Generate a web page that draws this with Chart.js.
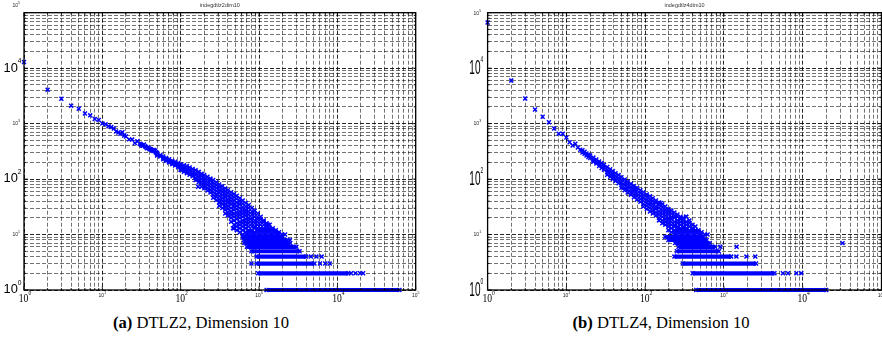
<!DOCTYPE html>
<html>
<head>
<meta charset="utf-8">
<title>In-degree distributions, dimension 10</title>
<script src="https://cdn.jsdelivr.net/npm/chart.js@4.4.1/dist/chart.umd.min.js"></script>
<style>
  html, body { margin: 0; padding: 0; background: #fff; }
  body { position: relative; width: 882px; height: 347px; overflow: hidden; }
  canvas { position: absolute; top: 0; }
  #c2 { left: 0; }
  #c4 { left: 441px; }
  .cap {
    position: absolute; top: 313px; line-height: 20px;
    font-family: "Liberation Serif", "DejaVu Serif", serif;
    font-size: 16.6px; color: #000; white-space: nowrap; transform: translateX(-50%);
  }
</style>
</head>
<body>
<canvas id="c2" width="441" height="312"></canvas>
<canvas id="c4" width="441" height="312"></canvas>
<div class="cap" style="left:201px"><b>(a)</b> DTLZ2, Dimension 10</div>
<div class="cap" style="left:661px"><b>(b)</b> DTLZ4, Dimension 10</div>
<script>
// ---------- DTLZ2, dimension 10: in-degree -> number of nodes ----------
const headDeg2 = [1,2,3,4,5,6,7,8,9,10,11,12,13,14,15,16,17,18,19,20,22,24,26,28,30,
                  31,32,33,34,35,36,37,38,39,40,41,42,43,44,45,46,47,48,49];
const headCnt2 = [12900,4100,2800,2100,1850,1520,1410,1210,1160,1005,970,900,865,815,720,690,655,700,610,585,
                  520,515,445,480,435,420,405,400,420,390,380,360,370,360,345,350,340,330,330,320,335,320,305,300];
// dense part: counts observed around each degree
const cloudDeg2 = [50,55,60,65,71,78,85,93,100,110,120,130,142,155,170,185,200,220,240,260,
                   285,310,340,370,400,440,480,520,570,620,680,740,810,880,960,1050,1150,1250,1370,1500,
                   1640,1800,1960,2150];
const cloudCnt2 = [
  [295,280,265],[272,255],[255,240,228],[240,225,215],[228,212,200],[215,198,186],[205,188,175],
  [195,178,164],[185,168,155,145],[178,160,146,135],[172,155,140,128],[162,146,132,120],[152,137,124,112],
  [145,130,117,105,96],[135,121,108,97,88],[125,112,100,90,81,73],[118,105,94,84,75,68],[110,98,87,78,70,62],
  [102,91,81,72,64,57],[96,85,75,67,59,52,46],[88,78,69,61,54,48,42],[80,71,63,56,49,43,38,33],
  [74,65,58,51,45,40,35,30],[68,60,53,47,41,36,32,28,24],[63,56,49,43,38,33,29,25,22],
  [58,51,45,40,35,30,26,23,20,17],[54,47,41,36,32,28,24,21,18,15,13],[50,44,38,33,29,25,22,19,16,14,12],
  [45,40,35,30,26,23,20,17,15,13,11],[41,36,31,27,24,21,18,16,14,12,10],[37,32,28,25,22,19,17,15,13,11,10],
  [34,30,26,23,20,18,16,14,12,11,10],[30,26,23,20,18,16,14,12,11,10],[27,24,21,18,16,14,13,11,10],
  [24,21,19,17,15,13,12,11,10],[21,19,17,15,13,12,11,10],[18,17,15,13,12,11,10],[16,15,13,12,11,10],
  [15,13,12,11,10],[13,12,11,10],[12,11,10],[11,10],[10],[10]
];
// low counts: runs of consecutive degrees sharing the same count
const rowCnt2  = [1,2,3,4,5,6,7,8,9];
const rowFrom2 = [1250,975,930,930,800,700,650,640,620];
const rowTo2   = [62000,13800,5100,4000,3300,3000,2500,2300,2000];
const oddDeg2 = [15000,17000,19500,21300,800,6000,7000,8000,4600,5400,6300,464,1300,167,2480];
const oddCnt2 = [2,2,2,2,3,3,3,3,4,4,4,13,15,73,8];

// ---------- DTLZ4, dimension 10 ----------
const headDeg4 = [1,2,3,4,5,6,7,8,9,10,11,12,13,14,15];
const headCnt4 = [66800,6000,2840,1800,1330,1060,817,655,655,562,463,403,432,371,337];
const cloudDeg4 = [16,17,18,19,20,22,24,26,28,30,33,36,39,42,46,50,55,60,66,72,
                   79,87,95,105,115,125,137,150,165,180,197,215,235,257,280,305,333,365,400,435,
                   475,520,570,620];
const cloudCnt4 = [
  [330,300],[310,285],[290,265],[275,250],[265,240],[245,222,205],[225,205,190],[208,190,172],
  [195,175,158],[182,163,148],[165,148,133,120],[150,135,121,110],[138,124,111,100],[128,114,102,92],
  [118,105,94,84],[108,96,86,77,70],[98,87,78,70,63],[90,80,71,64,57],[82,73,65,58,52],[75,67,60,53,47],
  [70,62,55,49,43],[63,56,50,44,39],[58,51,46,41,36,32],[53,47,42,37,33,29],[49,43,38,34,30,26],
  [45,40,35,31,27,24],[41,37,32,29,25,22],[38,34,30,26,23,20,18],[35,31,27,24,21,18,16],
  [32,28,25,22,19,17,15],[29,26,23,20,18,16,14,12],[27,24,21,19,17,15,13,11],[25,22,20,17,15,14,12,11,10],
  [23,21,18,16,14,13,12,11,10],[21,19,17,15,13,12,11,10],[20,18,16,14,13,12,11,10],[21,17,15,13,12,11,10],
  [18,16,14,12,11,10],[15,13,12,11,10],[14,12,11,10],[12,11,10],[11,10],[10],[10]
];
const rowCnt4  = [1,2,3,4,5,6,7,8,9];
const rowFrom4 = [445,400,300,235,252,265,240,197,180];
const rowTo4   = [19900,4380,2560,1235,860,770,660,605,550];
const oddDeg4 = [5600,6500,8300,9600,1440,1930,2500,900,1450,32000,330,158];
const oddCnt4 = [2,2,2,2,4,4,4,6,6,7,21,37];

// ---------- axes ----------
const decades = [1, 10, 100, 1000, 10000, 100000];
const minorSteps = [2, 3, 4, 5, 6, 7, 8, 9];
const tickExps = [0, 1, 2, 3, 4, 5];
const bigExps = [0, 2, 4];
const titles = ['indegdtlz2dim10', 'indegdtlz4dim10'];

const BLUE = '#0000ff';
const SANS = '"Liberation Sans", Arial, sans-serif';
const SERIF = '"Liberation Serif", "DejaVu Serif", serif';

const marker = {
  pointStyle: 'crossRot', pointRadius: 2.8, pointBorderWidth: 1.45,
  pointBorderColor: BLUE, pointBackgroundColor: BLUE,
  borderColor: BLUE, backgroundColor: BLUE, clip: false
};

function pairs(deg, cnt) { return deg.map((d, i) => ({ x: d, y: cnt[i] })); }
function columns(deg, cols) {
  const out = [];
  deg.forEach((d, i) => cols[i].forEach(c => out.push({ x: d, y: c })));
  return out;
}

function buildSets(hd, hc, cd, cc, rc, rf, rt, od, oc) {
  const sets = [
    Object.assign({ data: pairs(hd, hc), showLine: false }, marker),
    Object.assign({ data: columns(cd, cc), showLine: false }, marker),
    Object.assign({ data: pairs(od, oc), showLine: false }, marker)
  ];
  rc.forEach((c, i) => {
    sets.push(Object.assign({
      data: [{ x: rf[i], y: c }, { x: rt[i], y: c }],
      showLine: true, borderWidth: 4.2, fill: false
    }, marker));
  });
  return sets;
}

function gridTicks(scale) {
  const t = [];
  decades.forEach((d, i) => {
    t.push({ value: d, major: true });
    if (i < decades.length - 1) minorSteps.forEach(m => t.push({ value: d * m, major: false }));
  });
  scale.ticks = t;
}

function axis() {
  return {
    type: 'logarithmic', min: 1, max: 100000,
    afterBuildTicks: gridTicks,
    afterFit: s => { if (s.isHorizontal()) s.height = 0; else s.width = 0; },
    ticks: { display: false },
    grid: {
      drawTicks: false, lineWidth: 1,
      color: c => (c.tick && c.tick.major) ? 'rgba(0,0,0,0.85)' : 'rgba(0,0,0,0.55)'
    },
    border: { display: false, dash: [4, 2] }
  };
}

// "10" with a raised exponent
function powLabel(ctx, exp, cx, cy, st, align) {
  ctx.save();
  ctx.fillStyle = st.color;
  ctx.textAlign = 'left';
  ctx.textBaseline = 'alphabetic';
  ctx.font = st.size + 'px ' + st.fam;
  const w10 = ctx.measureText('10').width * st.xs;
  ctx.font = st.sup + 'px ' + st.fam;
  const wS = ctx.measureText(String(exp)).width * st.xs;
  const total = w10 + wS;
  const x0 = align === 'right' ? cx - total : cx - total / 2;
  const base = cy + st.size * 0.36;
  ctx.translate(x0, base);
  ctx.scale(st.xs, 1);
  ctx.font = st.size + 'px ' + st.fam;
  ctx.fillText('10', 0, 0);
  ctx.font = st.sup + 'px ' + st.fam;
  ctx.fillText(String(exp), w10 / st.xs, -st.size * 0.6);
  ctx.restore();
}

const deco = {
  id: 'deco',
  afterDatasetsDraw(chart, args, o) {
    const { ctx, chartArea: a, scales: { x, y } } = chart;
    ctx.save();
    ctx.strokeStyle = '#000';
    ctx.lineWidth = 0.8;
    ctx.beginPath();
    x.ticks.forEach(t => {
      const p = x.getPixelForValue(t.value), L = t.major ? 4 : 2;
      ctx.moveTo(p, a.bottom); ctx.lineTo(p, a.bottom - L);
      ctx.moveTo(p, a.top); ctx.lineTo(p, a.top + L);
    });
    y.ticks.forEach(t => {
      const p = y.getPixelForValue(t.value), L = t.major ? 4 : 2;
      ctx.moveTo(a.left, p); ctx.lineTo(a.left + L, p);
      ctx.moveTo(a.right, p); ctx.lineTo(a.right - L, p);
    });
    ctx.stroke();
    ctx.lineWidth = 1.3;
    ctx.strokeRect(a.left, a.top, a.right - a.left, a.bottom - a.top);

    tickExps.forEach(e => {
      const v = Math.pow(10, e);
      const px = x.getPixelForValue(v), py = y.getPixelForValue(v);
      if (bigExps.includes(e)) {
        powLabel(ctx, e, px + 1, a.bottom + 7.5, o.xBig, 'center');
        powLabel(ctx, e, a.left - o.yBigDx, py - 1.5, o.yBig, 'right');
      } else {
        powLabel(ctx, e, px, a.bottom + 5.5, o.small, 'center');
        powLabel(ctx, e, a.left - o.ySmallDx, e === 5 ? py + o.topSmallDy : py, o.small, 'right');
      }
    });

    ctx.fillStyle = '#333';
    ctx.font = '5.5px ' + SANS;
    ctx.textAlign = 'center';
    ctx.textBaseline = 'middle';
    ctx.fillText(o.title, (a.left + a.right) / 2, 5);
    ctx.restore();
  }
};

function makeChart(id, sets, pad, st) {
  return new Chart(document.getElementById(id), {
    type: 'scatter',
    data: { datasets: sets },
    options: {
      responsive: false, animation: false, events: [],
      layout: { padding: pad, autoPadding: false },
      plugins: { legend: { display: false }, tooltip: { enabled: false }, deco: st },
      scales: { x: axis(), y: axis() }
    },
    plugins: [deco]
  });
}

const smallStyle = { size: 5, sup: 3.5, xs: 1, fam: SANS, color: '#222' };
const xBigStyle = { size: 12, sup: 7, xs: 0.8, fam: SERIF, color: '#000' };

makeChart('c2',
  buildSets(headDeg2, headCnt2, cloudDeg2, cloudCnt2, rowCnt2, rowFrom2, rowTo2, oddDeg2, oddCnt2),
  { left: 24, top: 12.7, right: 25.3, bottom: 22 },
  { title: titles[0], xBig: xBigStyle, small: smallStyle,
    yBig: { size: 13.5, sup: 7, xs: 0.95, fam: SANS, color: '#000' },
    yBigDx: 2.5, ySmallDx: 4, topSmallDy: -8 });

makeChart('c4',
  buildSets(headDeg4, headCnt4, cloudDeg4, cloudCnt4, rowCnt4, rowFrom4, rowTo4, oddDeg4, oddCnt4),
  { left: 46.6, top: 12.7, right: 0.5, bottom: 22 },
  { title: titles[1], xBig: xBigStyle, small: smallStyle,
    yBig: { size: 20, sup: 9.5, xs: 0.5, fam: SANS, color: '#000' },
    yBigDx: 4.5, ySmallDx: 6.5, topSmallDy: 0 });
</script>
</body>
</html>
